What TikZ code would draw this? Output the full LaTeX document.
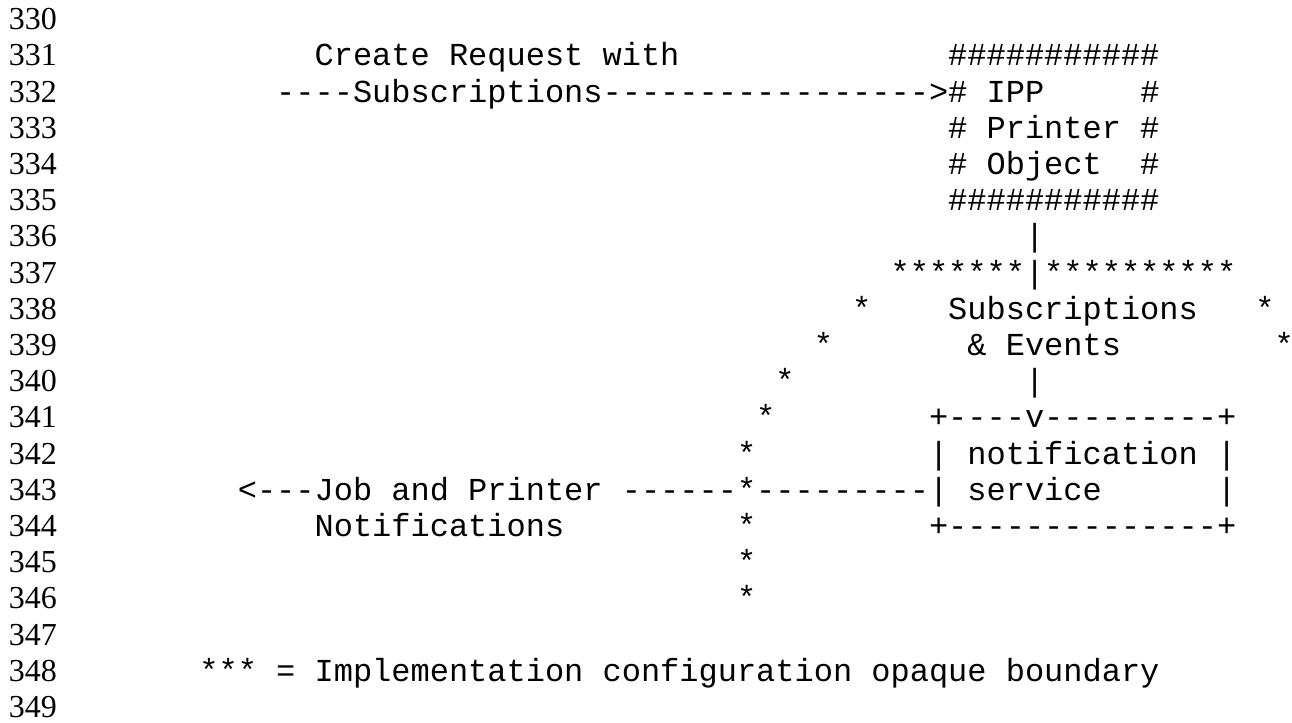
\documentclass[tikz,border=0pt]{standalone}
\usepackage{fontspec}
\setmainfont{Liberation Serif}
\setmonofont{Liberation Mono}

\begin{document}
\begin{tikzpicture}[x=9.6pt, y=-18.1pt,
  lnum/.style={anchor=base west, inner sep=0pt, font=\fontsize{16}{18}\selectfont},
  txt/.style={anchor=base west, inner sep=0pt, font=\ttfamily\fontsize{16}{18}\selectfont}]
\useasboundingbox (0,0) rectangle (67.29,19.972);
% Line numbers
\foreach \n in {0,...,19}{
  \pgfmathtruncatemacro{\lno}{330+\n}
  \node[lnum] (num\n) at (0.4375,0.818+\n) {\lno};
}
\begin{scope}[shift={(10.365,0.818)}]
% Top: request into the printer object
\node[txt] (req) at (6,1) {Create Request with};
\node[txt] (sub) at (4,2) {----Subscriptions----------------->};
% IPP Printer Object
\node[txt] (ipp0) at (39,1) {\#\#\#\#\#\#\#\#\#\#\#};
\node[txt] (ipp1) at (39,2) {\# IPP~~~~~\#};
\node[txt] (ipp2) at (39,3) {\# Printer \#};
\node[txt] (ipp3) at (39,4) {\# Object~~\#};
\node[txt] (ipp4) at (39,5) {\#\#\#\#\#\#\#\#\#\#\#};
\node[txt] (down1) at (43,6) {|};
% Opaque boundary
\node[txt] (btop) at (36,7) {*******|**********};
\node[txt] (evt1) at (39,8) {Subscriptions};
\node[txt] (evt2) at (40,9) {\& Events};
\node[txt] (r8) at (55,8) {*};
\node[txt] (r9) at (56,9) {*};
\node[txt] (down2) at (43,10) {|};
\foreach \c/\r in {34/8,32/9,30/10,29/11,28/12,28/13,28/14,28/15,28/16}
  \node[txt] (b\r) at (\c,\r) {*};
% Notification service
\node[txt] (svc0) at (38,11) {+----v---------+};
\node[txt] (svc1) at (38,12) {| notification |};
\node[txt] (svc2) at (38,13) {| service~~~~~~|};
\node[txt] (svc3) at (38,14) {+--------------+};
% Bottom: notifications out
\node[txt] (jobs) at (2,13) {<---Job and Printer ------};
\node[txt] (link) at (29,13) {---------};
\node[txt] (notif) at (6,14) {Notifications};
% Legend
\node[txt] (key) at (0,18) {*** = Implementation configuration opaque boundary};
\end{scope}
\end{tikzpicture}
\end{document}
